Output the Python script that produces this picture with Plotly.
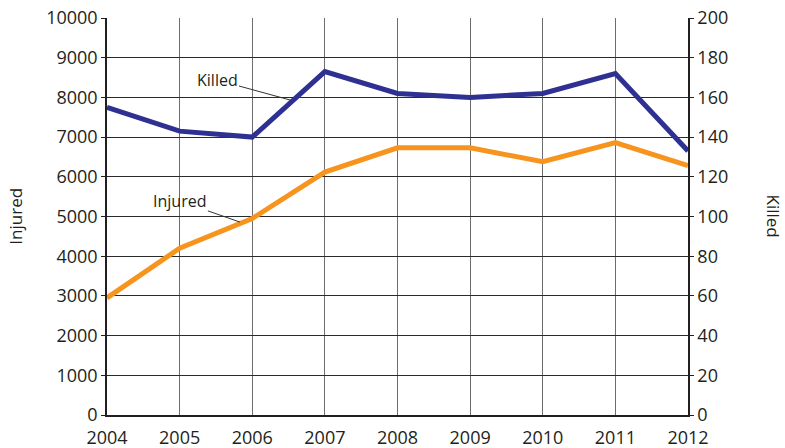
import plotly.graph_objects as go

years = [2004, 2005, 2006, 2007, 2008, 2009, 2010, 2011, 2012]
injured = [2950, 4200, 4950, 6120, 6730, 6730, 6380, 6860, 6280]
killed = [155, 143, 140, 173, 162, 160, 162, 172, 133]

left_ticks = list(range(0, 10001, 1000))
right_ticks = list(range(0, 201, 20))

BLUE = "#2e3192"
ORANGE = "#f7941d"
FONT = "Open Sans"

fig = go.Figure()
fig.add_trace(go.Scatter(x=years, y=injured, mode="lines", name="Injured",
                         line=dict(color=ORANGE, width=5), yaxis="y"))
fig.add_trace(go.Scatter(x=years, y=killed, mode="lines", name="Killed",
                         line=dict(color=BLUE, width=5), yaxis="y2"))

fig.update_layout(
    width=785, height=448,
    margin=dict(l=107, r=97, t=18, b=33),
    paper_bgcolor="white", plot_bgcolor="white",
    showlegend=False,
    font=dict(family=FONT, size=18, color="#231f20"),
    xaxis=dict(range=[2004, 2012], tickvals=years, ticktext=[str(y) for y in years],
               showgrid=True, gridcolor="#6d6d6d", gridwidth=1,
               showline=True, linecolor="#231f20", linewidth=1.5,
               ticks="", zeroline=False, tickfont=dict(size=18),
               ticklabelstandoff=6, automargin=False),
    yaxis=dict(range=[0, 10000], tickvals=left_ticks,
               ticktext=[str(v) for v in left_ticks],
               showgrid=True, gridcolor="#2a2a2a", gridwidth=1,
               showline=True, linecolor="#231f20", linewidth=1.5,
               ticks="outside", ticklen=4, tickcolor="#231f20",
               zeroline=False, tickfont=dict(size=18), automargin=False),
    yaxis2=dict(range=[0, 200], tickvals=right_ticks,
                ticktext=[str(v) for v in right_ticks],
                overlaying="y", side="right",
                showgrid=False, showline=True, linecolor="#231f20", linewidth=1.5,
                ticks="outside", ticklen=4, tickcolor="#231f20",
                zeroline=False, tickfont=dict(size=18), automargin=False),
)

# rotated axis titles
fig.add_annotation(text="Injured", xref="paper", yref="paper", x=-0.158, y=0.5,
                   xanchor="center", yanchor="middle", textangle=-90, showarrow=False,
                   font=dict(size=17))
fig.add_annotation(text="Killed", xref="paper", yref="paper", x=1.148, y=0.5,
                   xanchor="center", yanchor="middle", textangle=90, showarrow=False,
                   font=dict(size=17))

# series labels with leader lines
fig.add_annotation(text="Killed", x=2006.52, y=7935, xref="x", yref="y",
                   ax=-73, ay=-20, showarrow=True, arrowhead=0, arrowwidth=1,
                   arrowcolor="#333333", font=dict(size=16))
fig.add_annotation(text="Injured", x=2005.83, y=4860, xref="x", yref="y",
                   ax=-60, ay=-21, showarrow=True, arrowhead=0, arrowwidth=1,
                   arrowcolor="#333333", font=dict(size=16))

fig.write_html("out.html")
